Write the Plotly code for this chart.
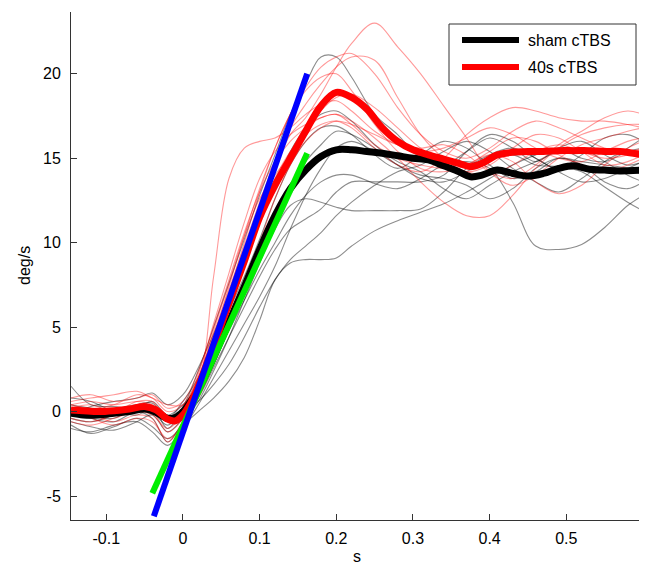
import plotly.graph_objects as go

# ---------------- data ----------------
# common grid for the individual (thin) trials, seconds
trial_t = [-0.146, -0.12, -0.09, -0.06, -0.04, -0.02, 0.0, 0.02, 0.04, 0.06, 0.08, 0.10,
           0.12, 0.14, 0.16, 0.18, 0.20, 0.22, 0.25, 0.28, 0.31, 0.34, 0.37, 0.40,
           0.43, 0.46, 0.49, 0.52, 0.55, 0.58, 0.60]

sham_trials = [
    [0.4, 0.2, 0.1, 0.4, 0.0, -0.8, 0.3, 2.4, 5.0, 7.6, 10.2, 12.8, 15.2, 17.6, 19.4, 21.0, 21.0, 19.8, 17.6, 16.4, 15.0, 14.6, 15.4, 16.2, 15.6, 14.8, 15.6, 16.0, 15.2, 14.6, 14.8],
    [-0.8, -1.3, -0.9, -0.4, -0.9, -1.6, -0.8, 0.0, 0.8, 1.8, 3.2, 5.4, 7.8, 8.8, 9.0, 9.0, 9.1, 9.8, 10.7, 11.3, 11.8, 12.3, 13.0, 13.8, 14.6, 15.2, 15.6, 15.0, 14.8, 15.4, 15.6],
    [1.5, 0.4, 0.3, 0.2, 0.6, -0.2, 0.4, 1.6, 3.2, 4.8, 6.6, 8.4, 10.0, 11.6, 12.8, 13.6, 14.0, 14.0, 13.5, 13.2, 13.8, 14.6, 14.8, 14.4, 12.4, 9.8, 9.6, 9.9, 10.9, 12.2, 12.8],
    [-0.4, -0.6, -0.2, 0.2, 0.3, -1.0, 0.2, 1.6, 3.6, 5.6, 7.6, 9.6, 11.6, 13.4, 14.8, 15.8, 16.6, 16.4, 15.6, 14.6, 13.8, 13.6, 14.2, 15.0, 15.2, 14.6, 14.5, 14.2, 13.3, 12.4, 11.9],
    [0.0, -0.4, -0.6, 0.0, -0.4, -1.8, -0.6, 0.6, 2.4, 4.4, 6.6, 8.8, 10.8, 12.2, 12.6, 12.4, 12.1, 11.9, 11.9, 11.9, 12.0, 13.0, 14.4, 15.2, 15.6, 15.0, 14.2, 13.6, 13.8, 14.4, 14.8],
    [-0.6, -0.9, -1.1, -0.6, -0.2, -1.2, -0.4, 0.8, 2.6, 4.4, 6.2, 8.0, 9.6, 10.8, 11.4, 12.0, 13.0, 13.6, 13.6, 13.6, 13.6, 14.0, 15.4, 16.4, 16.0, 15.0, 14.4, 15.2, 16.2, 16.4, 16.0],
    [0.8, 0.6, 0.0, -0.2, 0.2, -0.6, 0.0, 0.6, 1.6, 2.8, 4.4, 6.2, 7.8, 9.0, 9.8, 10.6, 11.6, 12.4, 13.4, 14.2, 14.6, 15.4, 16.0, 15.4, 14.4, 13.6, 13.0, 13.8, 14.8, 15.6, 16.2],
    [-0.2, 0.3, 0.6, 0.8, 1.1, 0.4, 1.0, 2.6, 4.6, 6.8, 9.0, 11.2, 13.4, 15.4, 16.8, 17.6, 17.8, 17.2, 15.8, 14.8, 14.2, 13.2, 12.6, 13.4, 14.2, 14.8, 15.4, 15.6, 14.8, 14.0, 13.6],
    [0.2, -0.2, -0.4, 0.4, 0.5, -0.4, 0.6, 2.0, 4.0, 6.0, 8.0, 10.2, 12.6, 14.6, 16.0, 16.8, 16.9, 16.4, 15.2, 14.4, 15.2, 16.0, 15.6, 14.6, 13.8, 14.2, 15.0, 14.6, 13.6, 13.2, 13.6],
    [-1.0, -1.2, -0.8, -0.6, -1.2, -2.0, -1.0, 0.4, 2.0, 3.6, 5.2, 6.8, 8.6, 10.8, 12.8, 14.4, 15.6, 16.0, 15.4, 14.6, 14.0, 13.8, 13.4, 12.6, 13.2, 14.4, 15.0, 14.8, 14.6, 14.4, 14.0],
]

ctbs_trials = [
    [0.6, 0.8, 1.0, 1.2, 0.8, 0.4, 0.4, 1.6, 8.0, 13.8, 15.6, 16.0, 16.2, 16.8, 17.6, 18.2, 18.4, 17.8, 16.6, 15.8, 15.4, 15.6, 16.2, 16.8, 16.4, 15.6, 15.0, 14.8, 15.4, 16.0, 16.2],
    [0.2, 0.0, -0.2, 0.4, 0.2, -0.6, 0.0, 1.8, 4.2, 6.8, 9.4, 12.0, 14.4, 16.4, 17.4, 18.8, 20.4, 21.8, 23.0, 21.6, 20.0, 18.1, 16.2, 14.2, 13.4, 14.0, 15.0, 15.8, 16.2, 16.6, 16.8],
    [-0.4, -0.6, -0.2, 0.2, 0.0, -1.2, -0.4, 1.6, 4.4, 7.4, 10.4, 13.2, 15.6, 17.6, 19.2, 20.4, 21.0, 21.2, 20.0, 18.0, 16.4, 15.4, 15.0, 15.6, 16.6, 17.2, 16.8, 16.2, 15.6, 15.4, 15.6],
    [0.4, 0.6, 0.4, 0.6, 0.4, -0.4, 0.0, 2.0, 4.6, 7.2, 9.8, 12.4, 14.8, 16.8, 18.2, 19.4, 20.4, 21.0, 20.8, 18.6, 16.4, 15.0, 14.2, 14.6, 15.6, 16.4, 16.2, 15.4, 14.6, 14.8, 15.2],
    [0.0, -0.4, -0.8, -0.4, -0.6, -1.6, -0.8, 1.2, 4.0, 7.0, 10.0, 13.0, 15.6, 17.6, 19.0, 19.8, 20.0, 19.0, 17.0, 15.4, 14.4, 14.2, 14.6, 15.4, 16.2, 16.0, 15.2, 14.6, 14.2, 14.6, 15.0],
    [0.8, 1.0, 0.6, 0.8, 1.0, 0.2, 0.6, 2.4, 5.0, 7.8, 10.6, 13.0, 14.8, 16.0, 16.8, 17.4, 17.6, 17.2, 16.2, 15.0, 13.6, 12.4, 11.6, 11.6, 12.8, 14.4, 15.6, 16.4, 16.8, 17.0, 17.0],
    [-0.6, -0.8, -0.4, 0.0, -0.2, -1.0, -0.2, 1.4, 3.8, 6.4, 9.0, 11.6, 13.8, 15.4, 16.4, 17.0, 17.2, 16.8, 15.6, 14.6, 14.2, 15.0, 16.4, 17.4, 18.0, 17.8, 17.4, 17.2, 17.2, 17.0, 16.8],
    [0.2, 0.4, 0.0, 0.6, 0.6, -0.4, 0.2, 2.2, 5.2, 8.2, 11.2, 13.8, 15.4, 16.4, 17.0, 17.4, 17.6, 17.0, 15.8, 15.0, 14.6, 14.4, 14.6, 15.2, 14.8, 13.6, 12.9, 13.4, 14.6, 15.6, 16.0],
    [-0.2, -0.2, -0.6, -0.2, -0.4, -1.8, -0.6, 0.8, 2.8, 5.0, 7.4, 10.0, 12.6, 14.6, 16.0, 16.8, 17.2, 17.0, 16.4, 15.8, 15.6, 15.8, 15.2, 14.2, 13.8, 14.6, 15.8, 16.6, 17.4, 17.8, 17.6],
    [0.4, 0.2, 0.4, 1.0, 0.8, 0.0, 0.4, 2.0, 4.8, 7.6, 10.4, 12.6, 14.0, 15.2, 16.4, 17.8, 18.6, 18.8, 18.0, 16.8, 15.6, 14.8, 14.2, 14.0, 14.6, 15.4, 15.8, 15.4, 15.0, 15.2, 15.6],
]

# group means (thick lines)
mean_t = [-0.146, -0.13, -0.11, -0.09, -0.07, -0.05, -0.035, -0.02, -0.01, 0.0, 0.01, 0.02,
          0.04, 0.06, 0.08, 0.10, 0.12, 0.14, 0.16, 0.18, 0.20, 0.22, 0.24, 0.26, 0.28,
          0.30, 0.32, 0.34, 0.36, 0.375, 0.39, 0.41, 0.43, 0.45, 0.47, 0.49, 0.51, 0.53,
          0.55, 0.57, 0.60]
sham_mean = [-0.1, -0.2, -0.2, -0.1, 0.0, 0.15, -0.05, -0.4, -0.35, 0.0, 0.6, 1.3,
             3.2, 5.3, 7.4, 9.6, 11.6, 13.2, 14.3, 15.1, 15.5, 15.5, 15.4, 15.3, 15.15,
             15.0, 14.9, 14.55, 14.2, 13.9, 14.0, 14.3, 14.1, 13.95, 14.1, 14.4, 14.55, 14.35,
             14.3, 14.25, 14.3]
ctbs_mean = [0.1, 0.05, 0.0, 0.05, 0.15, 0.3, 0.1, -0.45, -0.55, -0.2, 0.5, 1.5,
             3.9, 6.4, 8.9, 11.5, 13.4, 15.0, 16.6, 18.1, 18.9, 18.6, 17.9, 16.8, 16.0,
             15.5, 15.2, 14.95, 14.7, 14.5, 14.7, 15.2, 15.35, 15.4, 15.4, 15.45, 15.45, 15.45,
             15.4, 15.4, 15.2]

# linear fits of the rising phase
fit_ctbs_t = [-0.038, 0.162]
fit_ctbs_v = [-6.2, 20.0]
fit_sham_t = [-0.040, 0.162]
fit_sham_v = [-4.84, 15.3]

legend_labels = ["sham cTBS", "40s cTBS"]
x_ticks = [-0.1, 0, 0.1, 0.2, 0.3, 0.4, 0.5]
y_ticks = [-5, 0, 5, 10, 15, 20]
x_title = "s"
y_title = "deg/s"

# ---------------- figure ----------------
# the page body adds an 8px offset, so the figure is sized to the remaining window
OFF = 8
WIN_W, WIN_H = 647, 567
W, H = WIN_W - OFF, WIN_H - OFF
# plot area in window pixels: left 71, right 643, top 12, bottom 520
L, R, T, B = 71 - OFF, WIN_W - 643, 12 - OFF, WIN_H - 520
PW, PH = W - L - R, H - T - B
FONT = "Liberation Sans, Arial, Helvetica, sans-serif"
FS = 16

fig = go.Figure()

for tr in sham_trials:
    fig.add_trace(go.Scatter(x=trial_t, y=tr, mode="lines", line_shape="spline",
                             line=dict(color="rgba(0,0,0,0.45)", width=1.1),
                             showlegend=False, hoverinfo="skip"))
for tr in ctbs_trials:
    fig.add_trace(go.Scatter(x=trial_t, y=tr, mode="lines", line_shape="spline",
                             line=dict(color="rgba(255,0,0,0.4)", width=1.1),
                             showlegend=False, hoverinfo="skip"))

fig.add_trace(go.Scatter(x=mean_t, y=sham_mean, mode="lines", line_shape="spline",
                         line=dict(color="black", width=7), name=legend_labels[0],
                         showlegend=False))
fig.add_trace(go.Scatter(x=mean_t, y=ctbs_mean, mode="lines", line_shape="spline",
                         line=dict(color="#ff0000", width=7), name=legend_labels[1],
                         showlegend=False))
fig.add_trace(go.Scatter(x=fit_sham_t, y=fit_sham_v, mode="lines",
                         line=dict(color="#00ee00", width=6), showlegend=False))
fig.add_trace(go.Scatter(x=fit_ctbs_t, y=fit_ctbs_v, mode="lines",
                         line=dict(color="#0000ff", width=6), showlegend=False))


def px(p):
    """window pixel x -> paper fraction"""
    return (p - OFF - L) / PW


def py(p):
    """window pixel y -> paper fraction"""
    return (H - B - (p - OFF)) / PH


# MATLAB-style legend box
shapes = [
    dict(type="rect", xref="paper", yref="paper", x0=px(449), x1=px(636), y0=py(85), y1=py(24),
         line=dict(color="#333333", width=1), fillcolor="white", layer="above"),
    dict(type="line", xref="paper", yref="paper", x0=px(462), x1=px(519), y0=py(40), y1=py(40),
         line=dict(color="black", width=6), layer="above"),
    dict(type="line", xref="paper", yref="paper", x0=px(462), x1=px(519), y0=py(67), y1=py(67),
         line=dict(color="#ff0000", width=6), layer="above"),
]
annotations = [
    dict(xref="paper", yref="paper", x=px(526), y=py(40), text=legend_labels[0], showarrow=False,
         xanchor="left", yanchor="middle", font=dict(family=FONT, size=FS, color="black")),
    dict(xref="paper", yref="paper", x=px(526), y=py(67), text=legend_labels[1], showarrow=False,
         xanchor="left", yanchor="middle", font=dict(family=FONT, size=FS, color="black")),
    dict(xref="paper", yref="paper", x=0.5, y=py(556), text=x_title, showarrow=False,
         xanchor="center", yanchor="middle", font=dict(family=FONT, size=FS, color="black")),
    dict(xref="paper", yref="paper", x=px(24), y=0.5, text=y_title, showarrow=False,
         textangle=-90, xanchor="center", yanchor="middle",
         font=dict(family=FONT, size=FS, color="black")),
]

axis_common = dict(showgrid=False, zeroline=False, showline=True, linecolor="#333333",
                   linewidth=1, ticks="inside", ticklen=6, tickwidth=1, tickcolor="#333333",
                   mirror=False, automargin=False,
                   tickfont=dict(family=FONT, size=FS, color="black"))

fig.update_layout(
    width=W, height=H,
    margin=dict(l=L, r=R, t=T, b=B, pad=0, autoexpand=False),
    paper_bgcolor="white", plot_bgcolor="white",
    showlegend=False,
    shapes=shapes, annotations=annotations,
    font=dict(family=FONT, size=FS, color="black"),
    xaxis=dict(range=[-0.146, 0.6], tickvals=x_ticks, ticktext=[str(v) for v in x_ticks],
               ticklabelstandoff=4, **axis_common),
    yaxis=dict(range=[-6.42, 23.66], tickvals=y_ticks, ticktext=[str(v) for v in y_ticks],
               ticklabelstandoff=6, **axis_common),
)

fig.write_html("out.html")
